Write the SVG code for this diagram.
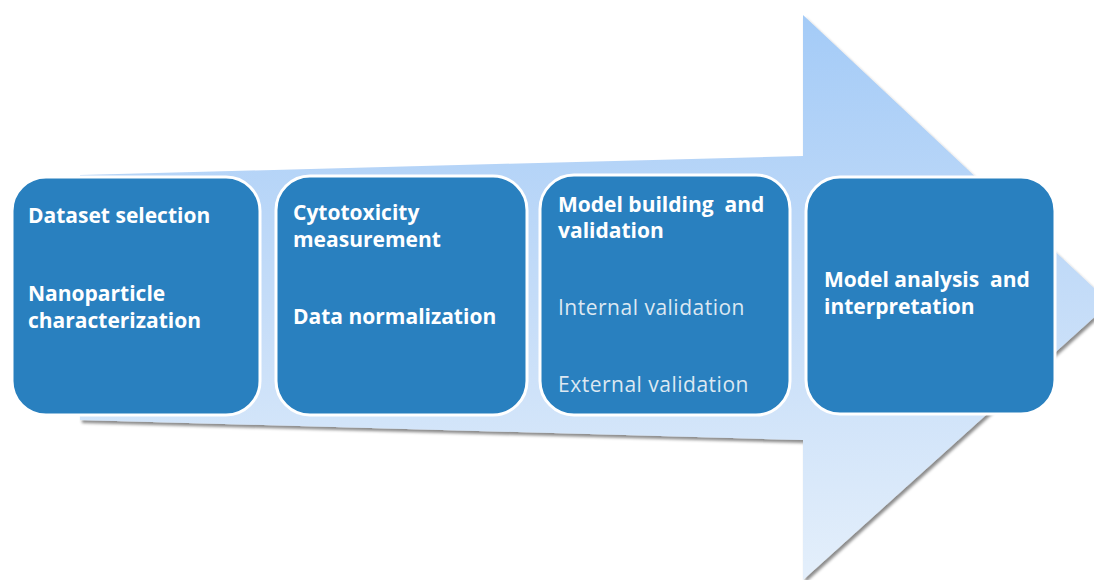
<svg xmlns="http://www.w3.org/2000/svg" width="1094" height="580" viewBox="0 0 1094 580">
  <defs>
    <linearGradient id="arrowFill" gradientUnits="userSpaceOnUse" x1="0" y1="15" x2="0" y2="580">
      <stop offset="0" stop-color="#a4cbf7"/>
      <stop offset="0.5" stop-color="#c4dcf8"/>
      <stop offset="1" stop-color="#e4effb"/>
    </linearGradient>
    <filter id="arrowShadow" x="-5%" y="-5%" width="115%" height="115%">
      <feDropShadow dx="2" dy="3" stdDeviation="1.6" flood-color="#000" flood-opacity="0.45"/>
    </filter>
    <style>
      .step { fill: #2980bf; stroke: #ffffff; stroke-width: 3; }
      .head { font-family: "Open Sans", "Noto Sans", sans-serif; font-weight: 700; font-size: 21px; fill: #ffffff; white-space: pre; }
      .sub  { font-family: "Open Sans", "Noto Sans", sans-serif; font-weight: 400; font-size: 21px; letter-spacing: 0.5px; fill: #dce8f2; }
    </style>
  </defs>

  <rect width="1094" height="580" fill="#ffffff"/>

  <!-- big process arrow behind the steps -->
  <g id="connectors">
    <path d="M80,175 L803,156 L803,15 L1110,303 L803,580 L803,440 L80,420 Z"
          fill="url(#arrowFill)" filter="url(#arrowShadow)"/>
  </g>

  <g id="step1">
    <rect class="step" x="12" y="177" width="248" height="238" rx="34"/>
    <text class="head" x="28" y="223">Dataset selection</text>
    <text class="head" x="28" y="301">Nanoparticle</text>
    <text class="head" x="28" y="328">characterization</text>
  </g>

  <g id="step2">
    <rect class="step" x="276" y="176" width="251" height="239" rx="34"/>
    <text class="head" x="293" y="220">Cytotoxicity</text>
    <text class="head" x="293" y="247">measurement</text>
    <text class="head" x="293" y="324">Data normalization</text>
  </g>

  <g id="step3">
    <rect class="step" x="540" y="175" width="250" height="240" rx="34"/>
    <text class="head" x="558" y="212">Model building  and</text>
    <text class="head" x="558" y="238">validation</text>
    <text class="sub" x="558" y="315">Internal validation</text>
    <text class="sub" x="558" y="392">External validation</text>
  </g>

  <g id="step4">
    <rect class="step" x="806" y="177" width="249" height="237" rx="34"/>
    <text class="head" x="824" y="287">Model analysis  and</text>
    <text class="head" x="824" y="314">interpretation</text>
  </g>
</svg>
